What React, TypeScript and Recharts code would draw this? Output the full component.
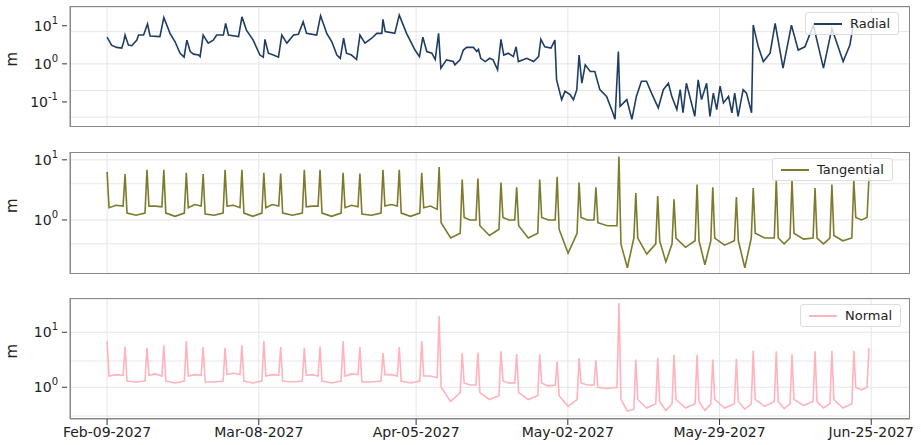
import React from "react";
import { LineChart, Line, XAxis, YAxis, CartesianGrid } from "recharts";

// day offsets from Feb-09-2027
const tickDays = [0, 27, 55, 82, 109, 136];
const tickLabels = ["Feb-09-2027", "Mar-08-2027", "Apr-05-2027", "May-02-2027", "May-29-2027", "Jun-25-2027"];

const radDays = [
  0, 0.8, 1.7, 2.6, 2.9, 3.2, 3.8, 4.4, 5.3, 5.6, 6.5, 7.2, 7.65, 9.4, 10.1, 11.2, 12.1, 13.0, 13.7, 14.2,
  14.8, 15.4, 16.3, 16.55, 17.1, 18.0, 18.9, 19.5, 20.7, 21.1, 21.6, 23.4, 24.0, 24.8, 26.0, 27.2, 27.8, 28.1,
  28.7, 29.6, 30.5, 31.1, 32.0, 33.2, 34.05, 34.9, 35.5, 37.3, 38.0, 39.1, 40.0, 40.9, 41.5, 42.1, 42.6, 43.5,
  44.4, 45.0, 45.9, 47.1, 48.0, 48.9, 49.1, 49.5, 51.2, 52.0, 53.3, 54.8, 55.6, 56.2, 56.9, 57.8, 58.4, 59.0,
  59.4, 60.4, 61.6, 61.9, 62.8, 63.4, 64.0, 65.2, 65.8, 66.1, 66.5, 67.3, 68.1, 68.7, 69.5, 70.1, 70.6, 71.4,
  72.3, 72.8, 73.2, 74.7, 75.9, 76.8, 77.2, 77.9, 79.0, 79.7, 80.0, 80.9, 81.5, 82.4, 83.0, 83.6, 84.0, 84.5,
  85.1, 86.0, 86.8, 87.7, 88.9, 89.8, 90.4, 91.0, 91.3, 92.5, 93.4, 94.2, 95.1, 96.0, 96.9, 98.1, 99.0, 99.9,
  100.5, 101.4, 102.0, 102.5, 103.1, 103.7, 104.6, 105.2, 105.8, 106.7, 107.3, 107.9, 108.5, 109.1, 109.7,
  110.6, 111.2, 111.7, 112.3, 113.2, 113.8, 114.4, 114.7, 115.0, 115.9, 116.8, 118.0, 118.9, 120.3, 121.8,
  123.0, 124.2, 125.7, 127.5, 129.0, 131.0, 132.2, 132.8,
];
const radVals = [
  5.0, 3.1, 2.7, 2.6, 3.5, 5.7, 3.1, 3.0, 4.2, 5.7, 5.7, 11.1, 5.4, 5.2, 16.5, 6.3, 3.8, 1.9, 1.5, 4.2,
  2.1, 1.8, 1.7, 1.55, 5.7, 3.5, 4.2, 5.7, 5.7, 11.5, 5.7, 5.2, 17.2, 7.7, 4.2, 1.7, 1.5, 4.4,
  1.9, 1.7, 1.5, 5.7, 3.5, 5.7, 6.0, 12.7, 6.3, 5.7, 18.3, 6.3, 3.8, 1.7, 1.4, 4.7, 1.9, 1.7,
  1.3, 5.7, 3.5, 4.7, 6.3, 6.3, 14.7, 7.0, 6.3, 19.0, 6.3, 2.3, 1.55, 5.0, 2.1, 1.9, 1.3, 6.3,
  0.77, 1.27, 1.15, 0.94, 1.27, 2.3, 2.7, 2.7, 2.1, 2.4, 1.4, 1.15, 1.4, 1.27, 0.7, 4.4, 1.7, 1.9,
  1.55, 2.8, 1.15, 1.4, 1.15, 1.55, 4.4, 2.8, 2.6, 4.2, 0.38, 0.115, 0.19, 0.155, 0.115, 0.21, 1.7, 0.31,
  0.94, 0.63, 0.63, 0.21, 0.14, 0.063, 0.035, 2.1, 0.077, 0.115, 0.035, 0.14, 0.35, 0.35, 0.17, 0.07, 0.21, 0.31,
  0.14, 0.063, 0.21, 0.052, 0.31, 0.14, 0.042, 0.38, 0.115, 0.31, 0.042, 0.17, 0.063, 0.26, 0.094,
  0.14, 0.052, 0.17, 0.042, 0.21, 0.17, 0.077, 0.052, 10.4, 2.8, 1.15, 1.9, 11.5, 0.77, 10.4,
  2.3, 2.8, 10.4, 0.77, 8.5, 1.15, 3.1, 10.4,
];

// spike times shared by the tangential and normal components
const peakDays = [
  0, 3.2, 7.1, 10.1, 14.1, 17.1, 21.0, 24.0, 27.9, 30.9, 35.1, 37.9, 42.0, 45.0, 49.1, 52.0, 56.0, 59.1, 63.2, 66.0,
  70.1, 72.9, 77.0, 80.1, 84.0, 87.0, 91.1, 94.1, 98.0, 100.9, 105.0, 107.8, 112.0, 115.0, 119.1, 121.9, 126.0, 129.0, 132.9, 135.6,
];

const tanPeak = [
  6.3, 5.8, 6.8, 6.8, 6.1, 5.8, 6.8, 6.8, 6.1, 5.9, 6.8, 6.8, 6.1, 5.9, 6.8, 6.8, 6.1, 7.6,
  4.7, 4.9, 4.2, 3.5, 4.7, 5.2, 4.2, 3.5, 11.4, 2.8, 2.5, 2.2, 3.9, 3.5, 2.4, 3.4, 4.7, 4.7, 3.4, 3.9, 4.7, 5.0,
];
const tanAfter = [
  1.6, 1.3, 1.7, 1.3, 1.6, 1.25, 1.7, 1.3, 1.6, 1.3, 1.65, 1.3, 1.6, 1.25, 1.7, 1.3, 1.6,
  0.9, 1.1, 0.8, 1.1, 0.8, 1.1, 0.7, 1.1, 0.9, 0.4, 0.5, 0.45, 0.5, 0.45, 0.5, 0.45, 0.6, 0.5, 0.6, 0.5, 0.55, 1.1,
];
const tanMid = [
  1.75, 1.2, 1.7, 1.15, 1.8, 1.2, 1.75, 1.15, 1.8, 1.2, 1.7, 1.15, 1.75, 1.2, 1.8, 1.15, 1.7,
  0.5, 1.0, 0.55, 1.0, 0.5, 1.0, 0.28, 1.0, 0.8, 0.16, 0.27, 0.2, 0.35, 0.18, 0.38, 0.16, 0.5, 0.4, 0.48, 0.4, 0.45, 1.0,
];
const tanBefore = [
  1.7, 1.3, 1.65, 1.3, 1.7, 1.3, 1.6, 1.3, 1.7, 1.3, 1.7, 1.3, 1.65, 1.3, 1.7, 1.3, 1.5,
  0.6, 1.0, 0.7, 1.0, 0.6, 1.0, 0.6, 1.0, 0.8, 0.5, 0.4, 0.4, 0.45, 0.45, 0.45, 0.5, 0.5, 0.5, 0.5, 0.5, 0.5, 1.1,
];

const norPeak = [
  6.9, 5.5, 5.2, 5.8, 6.9, 5.4, 5.2, 5.8, 6.9, 5.4, 5.2, 5.5, 6.9, 5.4, 4.2, 5.4, 6.9, 20,
  4.2, 4.3, 4.5, 4.0, 4.0, 2.9, 3.4, 3.1, 34, 3.2, 3.4, 3.9, 3.9, 3.2, 3.3, 4.6, 4.5, 4.0, 4.5, 4.6, 4.6, 5.2,
];
const norAfter = [
  1.6, 1.3, 1.65, 1.3, 1.6, 1.25, 1.7, 1.3, 1.6, 1.3, 1.65, 1.3, 1.6, 1.25, 1.7, 1.3, 1.6,
  1.0, 1.2, 0.8, 1.3, 0.8, 1.2, 0.7, 1.2, 1.0, 0.6, 0.6, 0.55, 0.6, 0.55, 0.6, 0.55, 0.6, 0.55, 0.6, 0.55, 0.6, 1.0,
];
const norMid = [
  1.7, 1.25, 1.75, 1.2, 1.7, 1.25, 1.8, 1.2, 1.7, 1.25, 1.7, 1.2, 1.75, 1.25, 1.7, 1.2, 1.6,
  0.55, 1.1, 0.6, 1.2, 0.6, 1.05, 0.45, 1.1, 0.95, 0.37, 0.42, 0.38, 0.42, 0.38, 0.42, 0.4, 0.45, 0.41, 0.47, 0.42, 0.42, 0.9,
];
const norBefore = [
  1.65, 1.3, 1.6, 1.3, 1.65, 1.3, 1.7, 1.3, 1.65, 1.3, 1.6, 1.3, 1.7, 1.3, 1.6, 1.3, 1.5,
  0.8, 1.1, 0.7, 1.2, 0.7, 1.1, 0.6, 1.1, 1.0, 0.4, 0.5, 0.5, 0.5, 0.5, 0.5, 0.5, 0.55, 0.5, 0.55, 0.5, 0.5, 1.0,
];

function spikeSeries(peak: number[], after: number[], mid: number[], before: number[]) {
  const out: { d: number; v: number }[] = [];
  for (let i = 0; i < peakDays.length - 1; i++) {
    const a = peakDays[i];
    const b = peakDays[i + 1];
    out.push({ d: a, v: peak[i] });
    out.push({ d: a + 0.35, v: after[i] });
    out.push({ d: (a + b) / 2, v: mid[i] });
    out.push({ d: b - 0.35, v: before[i] });
  }
  out.push({ d: peakDays[peakDays.length - 1], v: peak[peak.length - 1] });
  return out;
}

const radialData = radDays.map((d, i) => ({ d, v: radVals[i] }));
const tangentialData = spikeSeries(tanPeak, tanAfter, tanMid, tanBefore);
const normalData = spikeSeries(norPeak, norAfter, norMid, norBefore);

const FONT = "DejaVu Sans, sans-serif";
const PAD = 8;
const minor = (lo: number, hi: number) => {
  const vals: number[] = [];
  for (let e = -2; e <= 2; e++) {
    for (let k = 1; k <= 9; k++) {
      const v = k * Math.pow(10, e);
      if (v > lo && v < hi) vals.push(v);
    }
  }
  return vals;
};

const PowTick = (props: any) => {
  const { x, y, payload } = props;
  const exp = Math.round(Math.log10(payload.value));
  return (
    <g>
      <line x1={x} x2={x + 5} y1={y} y2={y} stroke="#333" />
      <text x={x - 4} y={y + 5} textAnchor="end" fontSize={14} fill="#222" fontFamily={FONT}>
        10
        <tspan dy={-7} fontSize={10}>{exp}</tspan>
      </text>
    </g>
  );
};

type PanelProps = {
  data: { d: number; v: number }[];
  domain: [number, number];
  ticks: number[];
  color: string;
  name: string;
  top: number;
  height: number;
  legendLeft: number;
  showX?: boolean;
};

function Panel({ data, domain, ticks, color, name, top, height, legendLeft, showX }: PanelProps) {
  return (
    <div style={{ position: "absolute", left: 0, top: top - PAD }}>
      <LineChart
        width={921}
        height={height + PAD}
        data={data}
        margin={{ top: PAD, right: 11, bottom: 0, left: 30 }}
      >
        <CartesianGrid
          stroke="#e6e6e6"
          horizontalValues={minor(domain[0], domain[1])}
          verticalValues={tickDays}
        />
        <XAxis
          dataKey="d"
          type="number"
          domain={[-6.6, 142.9]}
          ticks={tickDays}
          tickFormatter={(v: number) => tickLabels[tickDays.indexOf(v)]}
          hide={!showX}
          height={26}
          tick={{ fontSize: 14, fill: "#222", fontFamily: FONT }}
          tickLine={{ stroke: "#333" }}
          axisLine={{ stroke: "#888" }}
          allowDataOverflow
        />
        <YAxis
          scale="log"
          domain={domain}
          ticks={ticks}
          allowDataOverflow
          width={40}
          tick={<PowTick />}
          tickLine={false}
          axisLine={{ stroke: "#888" }}
          label={{ value: "m", angle: -90, position: "insideLeft", offset: -18, style: { fontSize: 15, fill: "#222", fontFamily: FONT } }}
        />
        <Line dataKey="v" stroke={color} strokeWidth={1.6} dot={false} isAnimationActive={false} name={name} />
      </LineChart>
      <div
        style={{
          position: "absolute",
          left: 70,
          top: PAD,
          width: 840,
          height: height - (showX ? 26 : 0),
          border: "1px solid #888",
          boxSizing: "border-box",
          pointerEvents: "none",
        }}
      />
      <div
        style={{
          position: "absolute",
          left: legendLeft,
          top: PAD + 6,
          display: "flex",
          alignItems: "center",
          gap: 8,
          background: "rgba(255,255,255,0.8)",
          border: "1px solid #ddd",
          borderRadius: 3,
          padding: "3px 8px",
          fontFamily: FONT,
          fontSize: 13,
          color: "#222",
        }}
      >
        <span style={{ display: "inline-block", width: 28, height: 0, borderTop: `2px solid ${color}` }} />
        {name}
      </div>
    </div>
  );
}

export default function App() {
  return (
    <div style={{ position: "absolute", left: 0, top: 0, width: 921, height: 445, background: "#fff" }}>
      <Panel data={radialData} domain={[0.022, 33]} ticks={[0.1, 1, 10]} color="#1f3d63" name="Radial" top={6} height={121} legendLeft={805} />
      <Panel data={tangentialData} domain={[0.126, 13.5]} ticks={[1, 10]} color="#7d7a2c" name="Tangential" top={152} height={122} legendLeft={772} />
      <Panel data={normalData} domain={[0.265, 42]} ticks={[1, 10]} color="#ffb3bd" name="Normal" top={298} height={147} legendLeft={800} showX />
    </div>
  );
}
